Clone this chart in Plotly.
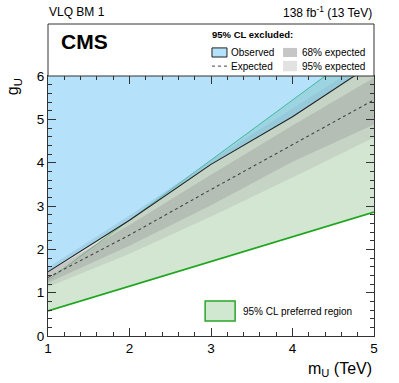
import plotly.graph_objects as go

# Valores
mass = [1, 2, 3, 4, 5]
observed = [1.48, 2.67, 3.96, 5.06, 6.30]
expected = [1.35, 2.33, 3.38, 4.41, 5.45]
lo68 = [1.23, 2.08, 3.02, 4.02, 4.88]
hi68 = [1.47, 2.56, 3.72, 4.86, 5.96]
lo95 = [1.13, 1.90, 2.76, 3.66, 4.58]
hi95 = [1.58, 2.78, 4.05, 5.25, 6.45]
pref_lo = [0.58, 1.15, 1.72, 2.29, 2.86]
pref_hi = [1.29, 2.68, 4.06, 5.45, 6.83]
ceiling = [7, 7, 7, 7, 7]

FONT = "Liberation Sans, Arial, sans-serif"
BLUE = "rgba(90,190,245,0.45)"
GREEN = "rgba(30,130,30,0.2)"
BAND95 = "rgba(185,190,185,0.45)"
BAND68 = "rgba(150,150,150,0.35)"

fig = go.Figure()


def band(lo, hi, color, line_lo=None, line_hi=None):
    fig.add_trace(go.Scatter(x=mass, y=lo, mode="lines",
                             line=line_lo or dict(width=0), hoverinfo="skip"))
    fig.add_trace(go.Scatter(x=mass, y=hi, mode="lines", fill="tonexty",
                             fillcolor=color, line=line_hi or dict(width=0),
                             hoverinfo="skip"))


# Región preferida al 95% CL
band(pref_lo, pref_hi, GREEN,
     line_lo=dict(color="#1fa51f", width=1.6),
     line_hi=dict(color="#2fb050", width=1))

# Bandas esperadas
band(lo95, hi95, BAND95)
band(lo68, hi68, BAND68)

# Exclusión observada
band(observed, ceiling, BLUE, line_lo=dict(color="#222222", width=1.1))

# Límite esperado
fig.add_trace(go.Scatter(x=mass, y=expected, mode="lines",
                         line=dict(color="#444444", width=1.1, dash="dot"),
                         hoverinfo="skip"))

axis_common = dict(
    showgrid=False, zeroline=False, showline=True, linecolor="#333333",
    linewidth=1, mirror="ticks", ticks="inside", ticklen=8, tickcolor="#333333",
    tickfont=dict(family=FONT, size=13.5, color="black"),
    minor=dict(ticks="inside", ticklen=4, dtick=0.2, tickcolor="#333333"),
)

fig.update_xaxes(range=[1, 5], dtick=1, **axis_common)
fig.update_yaxes(range=[0, 6], dtick=1, **axis_common)

shapes = [
    # Cabecera con la leyenda
    dict(type="rect", xref="paper", yref="paper", x0=0, x1=1, y0=1, y1=1.2,
         line=dict(color="#333333", width=1), fillcolor="white"),
    dict(type="rect", xref="paper", yref="paper", x0=0.503, x1=0.549,
         y0=1.073, y1=1.108, line=dict(color="#222222", width=1),
         fillcolor="#b3e2fa"),
    dict(type="rect", xref="paper", yref="paper", x0=0.721, x1=0.764,
         y0=1.073, y1=1.108, line=dict(width=0), fillcolor="#c6c6c6"),
    dict(type="line", xref="paper", yref="paper", x0=0.503, x1=0.549,
         y0=1.038, y1=1.038, line=dict(color="#444444", width=1, dash="dot")),
    dict(type="rect", xref="paper", yref="paper", x0=0.721, x1=0.764,
         y0=1.018, y1=1.058, line=dict(width=0), fillcolor="#e2e2e2"),
    # Leyenda inferior
    dict(type="rect", xref="paper", yref="paper", x0=0.482, x1=0.574,
         y0=0.058, y1=0.135, line=dict(color="#2aa52a", width=1.5),
         fillcolor="#d0e8d0"),
]


def text(x, y, s, size, xanchor="left", bold=False, angle=0, yanchor="middle"):
    if bold:
        s = "<b>" + s + "</b>"
    return dict(xref="paper", yref="paper", x=x, y=y, text=s, showarrow=False,
                xanchor=xanchor, yanchor=yanchor, textangle=angle,
                font=dict(family=FONT, size=size, color="black"))


annotations = [
    text(-0.003, 1.246, "VLQ BM 1", 12),
    text(1.0, 1.246, "138 fb<sup>-1</sup> (13 TeV)", 12, xanchor="right"),
    text(0.035, 1.131, "CMS", 21, bold=True),
    text(0.497, 1.158, "95% CL excluded:", 9.5, bold=True),
    text(0.555, 1.092, "Observed", 10),
    text(0.773, 1.092, "68% expected", 10),
    text(0.555, 1.038, "Expected", 10),
    text(0.773, 1.038, "95% expected", 10),
    text(0.592, 0.096, "95% CL preferred region", 10),
    text(1.0, -0.13, "m<sub>U</sub> (TeV)", 16, xanchor="right"),
    text(-0.105, 1.0, "g<sub>U</sub>", 16, angle=-90, xanchor="center",
         yanchor="top"),
]

fig.update_layout(
    width=399, height=383,
    margin=dict(l=48, r=25, t=76, b=47),
    paper_bgcolor="white", plot_bgcolor="white",
    showlegend=False,
    shapes=shapes, annotations=annotations,
    font=dict(family=FONT),
)

# Quitar el margen por defecto del body para que la figura ocupe la ventana
fig.write_html("out.html", config={"displayModeBar": False},
               post_script="document.body.style.margin='0';")
